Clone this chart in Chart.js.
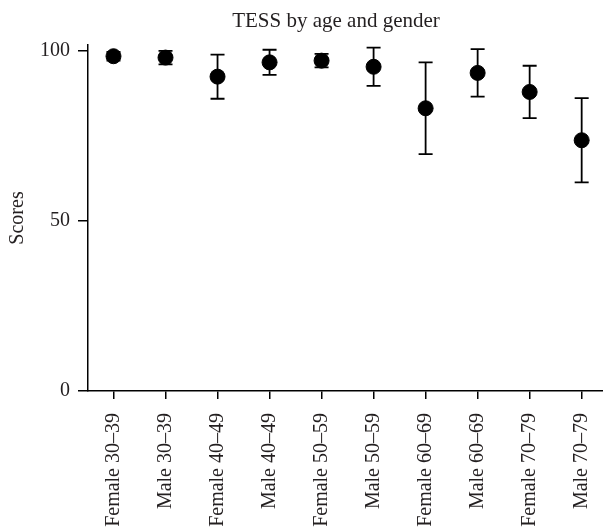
<!DOCTYPE html>
<html>
<head>
<meta charset="utf-8">
<script src="https://cdn.jsdelivr.net/npm/chart.js@4/dist/chart.umd.min.js"></script>
<style>
  html, body { margin: 0; padding: 0; background: #fff; overflow: hidden; }
  #wrap { width: 603px; height: 529px; overflow: hidden; }
</style>
</head>
<body>
<div id="wrap"><canvas id="grafico"></canvas></div>
<script>
const categorias = ['Female 30–39', 'Male 30–39', 'Female 40–49', 'Male 40–49', 'Female 50–59',
                    'Male 50–59', 'Female 60–69', 'Male 60–69', 'Female 70–79', 'Male 70–79'];
const medias = [98.4, 98.0, 92.4, 96.6, 97.1, 95.3, 83.1, 93.5, 87.9, 73.7];
const erros = [1.3, 2.0, 6.5, 3.7, 2.0, 5.6, 13.5, 7.0, 7.7, 12.4];
const ticksY = [0, 50, 100];
const tituloTexto = 'TESS by age and gender';

const fonte = 'Liberation Serif';
const corTexto = '#231f20';

// barras de erro desenhadas a partir dos arrays
const barrasErro = {
    id: 'barrasErro',
    beforeDatasetsDraw(chart) {
        const ctx = chart.ctx;
        const x = chart.scales.x;
        const y = chart.scales.y;
        ctx.save();
        ctx.strokeStyle = '#000';
        ctx.lineWidth = 1.8;
        medias.forEach((m, i) => {
            const px = x.getPixelForValue(i);
            const topo = y.getPixelForValue(m + erros[i]);
            const base = y.getPixelForValue(m - erros[i]);
            ctx.beginPath();
            ctx.moveTo(px, topo);
            ctx.lineTo(px, base);
            ctx.moveTo(px - 7, topo);
            ctx.lineTo(px + 7, topo);
            ctx.moveTo(px - 7, base);
            ctx.lineTo(px + 7, base);
            ctx.stroke();
        });
        ctx.restore();
    }
};

const tituloPlugin = {
    id: 'tituloPlugin',
    afterDraw(chart) {
        const ctx = chart.ctx;
        ctx.save();
        ctx.font = `21px "${fonte}"`;
        ctx.fillStyle = corTexto;
        ctx.textAlign = 'center';
        ctx.textBaseline = 'middle';
        ctx.fillText(tituloTexto, 336, 21);
        ctx.restore();
    }
};

const ctx = document.getElementById('grafico').getContext('2d');
new Chart(ctx, {
    type: 'scatter',
    data: {
        datasets: [{
            label: 'TESS',
            data: medias.map((m, i) => ({ x: i, y: m })),
            backgroundColor: '#000',
            borderColor: '#000',
            pointRadius: 7.5,
            pointHoverRadius: 7.5
        }]
    },
    options: {
        responsive: true,
        maintainAspectRatio: false,
        animation: false,
        layout: { padding: { top: 45, right: 0, bottom: 0, left: 0 }, autoPadding: false },
        plugins: {
            legend: { display: false },
            tooltip: { enabled: false },
            title: { display: false }
        },
        scales: {
            x: {
                type: 'linear',
                min: -0.49,
                max: 9.41,
                afterBuildTicks: scale => { scale.ticks = categorias.map((c, i) => ({ value: i })); },
                afterFit: scale => {
                    scale.height = 138;
                    scale.paddingLeft = 0;
                    scale.paddingRight = 0;
                },
                border: { display: true, color: '#000', width: 1.5 },
                grid: { drawOnChartArea: false, drawTicks: true, tickLength: 8, color: '#000', lineWidth: 1.5 },
                ticks: {
                    minRotation: 90,
                    maxRotation: 90,
                    autoSkip: false,
                    padding: 14,
                    color: corTexto,
                    font: { family: fonte, size: 20 },
                    callback: v => categorias[v]
                }
            },
            y: {
                min: 0,
                max: 101.7,
                afterBuildTicks: scale => { scale.ticks = ticksY.map(v => ({ value: v })); },
                afterFit: scale => { scale.width = 88; },
                border: { display: true, color: '#000', width: 1.5 },
                grid: { drawOnChartArea: false, drawTicks: true, tickLength: 10, color: '#000', lineWidth: 1.5 },
                ticks: {
                    padding: 8,
                    color: corTexto,
                    font: { family: fonte, size: 20 }
                },
                title: {
                    display: true,
                    text: 'Scores',
                    color: corTexto,
                    font: { family: fonte, size: 20 },
                    padding: { top: 6, bottom: 0 }
                }
            }
        }
    },
    plugins: [barrasErro, tituloPlugin]
});
</script>
</body>
</html>
